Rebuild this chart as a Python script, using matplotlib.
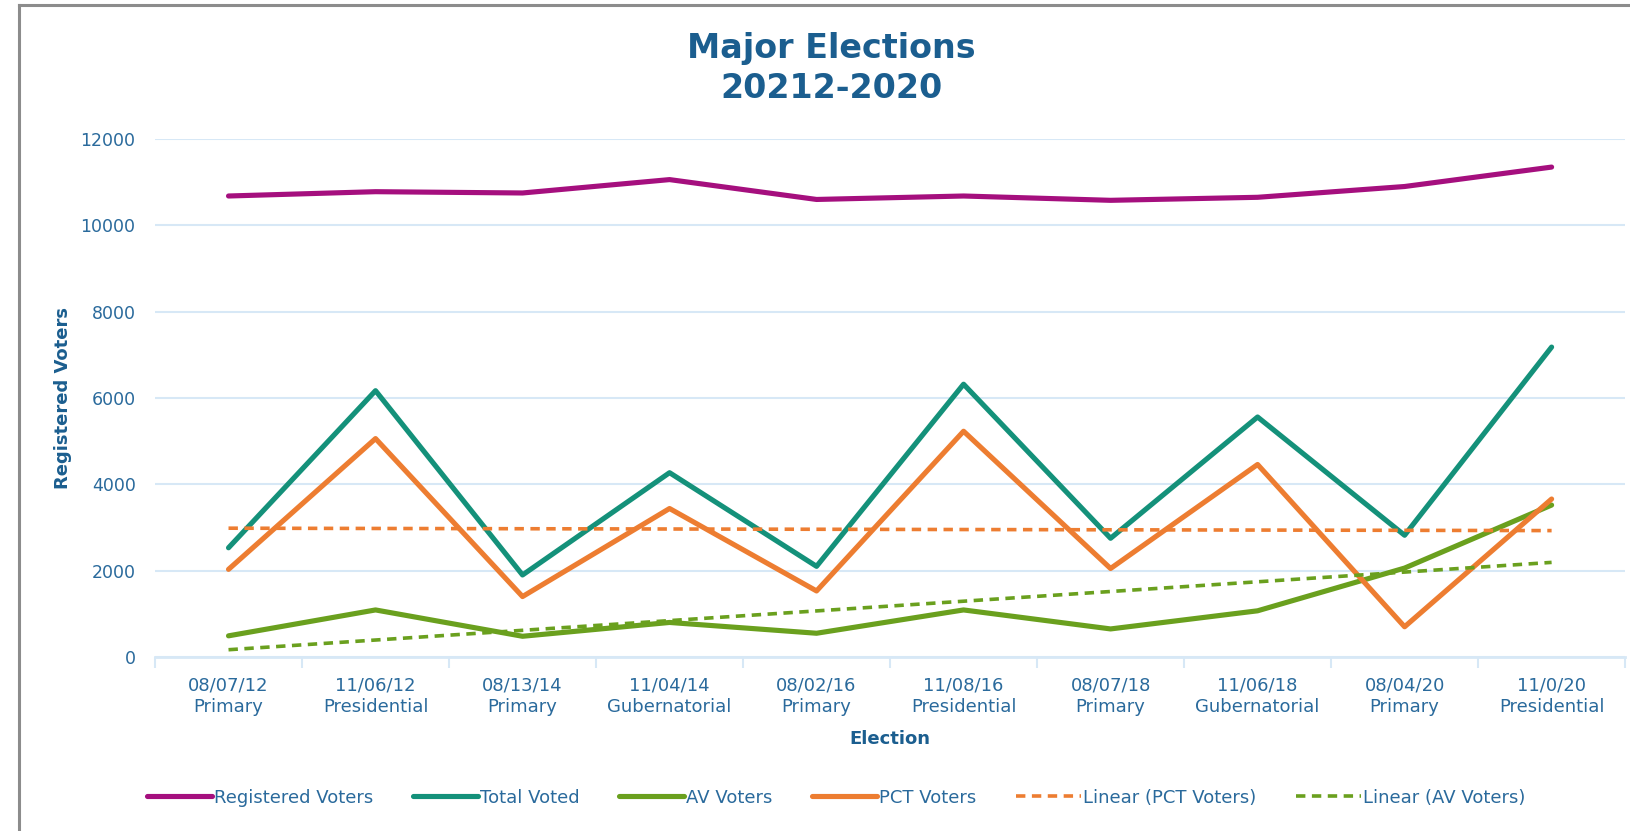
import numpy as np
import matplotlib
matplotlib.use("Agg")
import matplotlib.pyplot as plt
from matplotlib.lines import Line2D

# data
elections = ["08/07/12\nPrimary", "11/06/12\nPresidential", "08/13/14\nPrimary",
             "11/04/14\nGubernatorial", "08/02/16\nPrimary", "11/08/16\nPresidential",
             "08/07/18\nPrimary", "11/06/18\nGubernatorial", "08/04/20\nPrimary",
             "11/0/20\nPresidential"]
registered = [10680, 10780, 10750, 11060, 10600, 10680, 10580, 10650, 10900, 11350]
total_voted = [2530, 6170, 1900, 4270, 2100, 6320, 2750, 5560, 2820, 7180]
av_voters = [490, 1090, 480, 800, 550, 1090, 650, 1070, 2060, 3520]
pct_voters = [2030, 5060, 1400, 3440, 1530, 5230, 2050, 4460, 700, 3660]

text_blue = "#2A6A9C"
title_blue = "#1B5E8F"
grid_blue = "#D7E8F6"
c_reg = "#A50F7E"
c_tot = "#14917A"
c_av = "#6AA01E"
c_pct = "#ED7D31"

plt.rcParams['font.family'] = ['DejaVu Sans']

fig = plt.figure(figsize=(16.3, 8.31), dpi=100)
ax = fig.add_axes([0.0951, 0.2094, 0.9019, 0.6233])

x = np.arange(len(elections))

# Excel style linear trendlines
pct_fit = np.polyval(np.polyfit(x, pct_voters, 1), x)
av_fit = np.polyval(np.polyfit(x, av_voters, 1), x)

lw = 3.7
ax.plot(x, registered, color=c_reg, lw=lw, label="Registered Voters", solid_capstyle="round")
ax.plot(x, total_voted, color=c_tot, lw=lw, label="Total Voted", solid_capstyle="round")
ax.plot(x, av_voters, color=c_av, lw=lw, label="AV Voters", solid_capstyle="round")
ax.plot(x, pct_voters, color=c_pct, lw=lw, label="PCT Voters", solid_capstyle="round")
ax.plot(x, pct_fit, color=c_pct, lw=2.6, ls=(0, (2.6, 1.8)), label="Linear (PCT Voters)")
ax.plot(x, av_fit, color=c_av, lw=2.6, ls=(0, (2.6, 1.8)), label="Linear (AV Voters)")

ax.set_xlim(-0.5, len(elections) - 0.5)
ax.set_ylim(0, 12000)
ax.set_yticks(range(0, 12001, 2000))
ax.set_xticks(x)
ax.set_xticklabels(elections, fontsize=13, color=text_blue, linespacing=1.25)
ax.set_xticks(np.arange(-0.5, len(elections)), minor=True)
ax.tick_params(axis="x", which="major", length=0, pad=14)
ax.tick_params(axis="x", which="minor", length=8, width=1.5, color=grid_blue)
ax.tick_params(axis="y", length=0, labelsize=12.5, labelcolor=text_blue, pad=14)

ax.grid(axis="y", color=grid_blue, lw=1.5)
ax.set_axisbelow(True)
for s in ["top", "right", "left"]:
    ax.spines[s].set_visible(False)
ax.spines["bottom"].set_color(grid_blue)
ax.spines["bottom"].set_linewidth(2)

ax.set_ylabel("Registered Voters", fontsize=13, fontweight="bold", color=title_blue, labelpad=6)
ax.set_xlabel("Election", fontsize=13, fontweight="bold", color=title_blue, labelpad=10)

fig.suptitle("Major Elections\n20212-2020", x=0.51, y=0.962, fontsize=24, fontweight="bold",
             color=title_blue, linespacing=1.3)

fig.legend(loc="center", bbox_to_anchor=(0.513, 0.04), ncol=6, frameon=False,
           fontsize=13, labelcolor=text_blue, handlelength=3.6, handletextpad=0.1,
           columnspacing=2.2)

# grey frame of the chart area (left and top edges visible)
fig.add_artist(Line2D([19 / 1630, 19 / 1630], [0, 1 - 5 / 831], transform=fig.transFigure,
                      color="#8C8C8C", lw=2.2))
fig.add_artist(Line2D([19 / 1630, 1], [1 - 5 / 831, 1 - 5 / 831], transform=fig.transFigure,
                      color="#8C8C8C", lw=2.2))

fig.savefig("out.png", dpi=100)
